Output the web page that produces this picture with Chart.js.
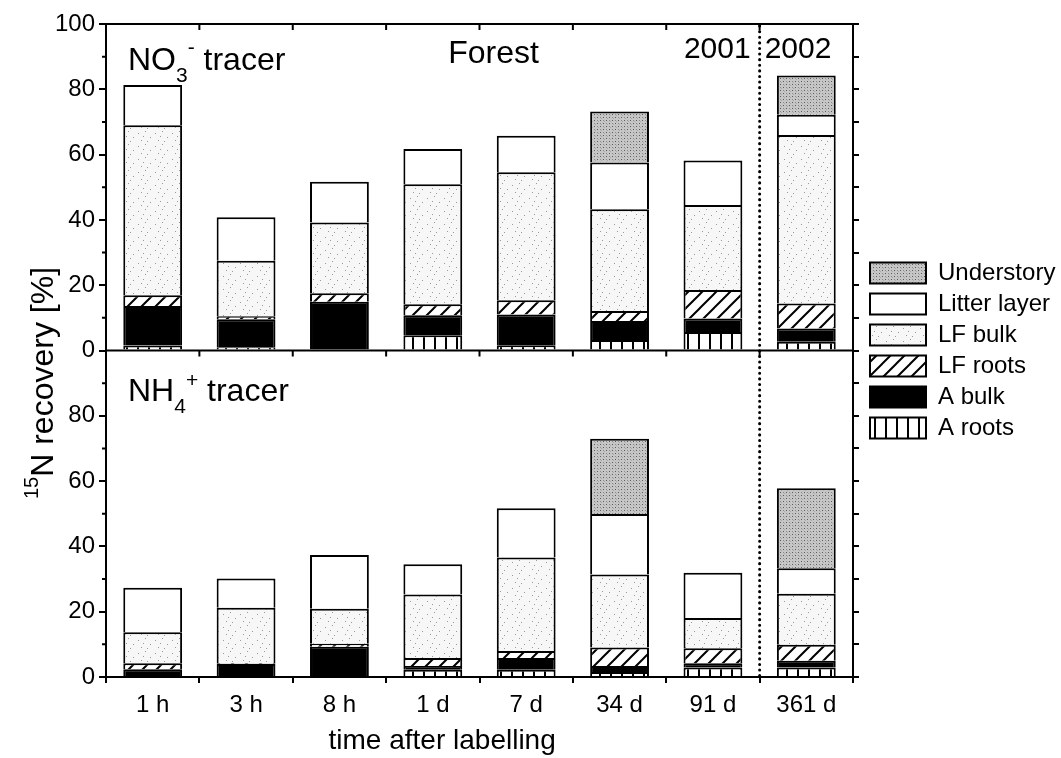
<!DOCTYPE html>
<html>
<head>
<meta charset="utf-8">
<script src="https://cdn.jsdelivr.net/npm/chart.js@4.4.1/dist/chart.umd.min.js"></script>
<style>
  html, body { margin: 0; padding: 0; background: #fff; }
  #wrap { width: 1061px; height: 758px; }
</style>
</head>
<body>
<div id="wrap"><canvas id="recoveryChart" width="1061" height="758"></canvas></div>
<script>
const times = ["1 h", "3 h", "8 h", "1 d", "7 d", "34 d", "91 d", "361 d"];
const layerNames = ["A roots", "A bulk", "LF roots", "LF bulk", "Litter layer", "Understory"];
const yTicks = [0, 20, 40, 60, 80, 100];

// NO3- tracer, % recovery per compartment
const no3ARoots = [1.5, 1.0, 0, 4.7, 1.6, 3.2, 5.7, 2.7];
const no3ABulk = [12.1, 8.6, 14.9, 6.1, 9.4, 5.8, 4.1, 4.0];
const no3LFRoots = [3.3, 0.9, 2.6, 3.4, 4.4, 3.1, 8.7, 7.7];
const no3LFBulk = [52.1, 17.0, 21.7, 36.7, 39.2, 31.2, 26.1, 51.6];
const no3Litter = [12.3, 13.3, 12.5, 10.8, 11.2, 14.3, 13.6, 6.2];
const no3Understory = [0, 0, 0, 0, 0, 15.6, 0, 12.0];

// NH4+ tracer
const nh4ARoots = [0.3, 0, 0, 2.2, 2.2, 1.5, 2.9, 2.9];
const nh4ABulk = [2.1, 4.0, 9.3, 1.2, 3.6, 1.9, 1.3, 2.1];
const nh4LFRoots = [1.8, 0.2, 0.9, 2.4, 2.2, 5.6, 4.6, 4.9];
const nh4LFBulk = [9.5, 17.0, 10.7, 19.5, 28.6, 22.4, 9.3, 15.6];
const nh4Litter = [13.6, 9.0, 16.5, 9.2, 15.1, 18.5, 13.8, 7.8];
const nh4Understory = [0, 0, 0, 0, 0, 23.1, 0, 24.5];

const FONT = '"Liberation Sans", Arial, sans-serif';
Chart.defaults.font.family = FONT;
Chart.defaults.color = "#000";

function makePattern(w, h, draw) {
  const c = document.createElement("canvas");
  c.width = w;
  c.height = h;
  const g = c.getContext("2d");
  draw(g, w, h);
  return g.createPattern(c, "repeat");
}

// grey screen for understory
const understoryFill = makePattern(6, 6, (g) => {
  g.fillStyle = "#c6c6c6";
  g.fillRect(0, 0, 6, 6);
  g.fillStyle = "#5a5a5a";
  g.fillRect(0, 0, 1, 1);
  g.fillRect(3, 3, 1, 1);
  g.fillStyle = "#8c8c8c";
  g.fillRect(3, 0, 1, 1);
  g.fillRect(0, 3, 1, 1);
  g.fillStyle = "#a8a8a8";
  g.fillRect(1, 4, 1, 1);
  g.fillRect(4, 1, 1, 1);
});
// light speckle for LF bulk
const lfBulkFill = makePattern(17, 13, (g) => {
  g.fillStyle = "#f7f7f7";
  g.fillRect(0, 0, 17, 13);
  g.fillStyle = "#9a9a9a";
  [[2, 3], [9, 1], [14, 7], [5, 10], [11, 11], [7, 6]].forEach(([px, py]) => g.fillRect(px, py, 1, 1));
});
// diagonal hatch for LF roots
const lfRootsFill = makePattern(14, 14, (g) => {
  g.fillStyle = "#fff";
  g.fillRect(0, 0, 14, 14);
  g.strokeStyle = "#000";
  g.lineWidth = 2;
  g.beginPath();
  g.moveTo(0, 14); g.lineTo(14, 0);
  g.moveTo(-2, 2); g.lineTo(2, -2);
  g.moveTo(12, 16); g.lineTo(16, 12);
  g.stroke();
});
// vertical lines for A roots
const aRootsFill = makePattern(11, 4, (g) => {
  g.fillStyle = "#fff";
  g.fillRect(0, 0, 11, 4);
  g.fillStyle = "#000";
  g.fillRect(5, 0, 2, 4);
});

const fills = [aRootsFill, "#000", lfRootsFill, lfBulkFill, "#fff", understoryFill];
const no3Layers = [no3ARoots, no3ABulk, no3LFRoots, no3LFBulk, no3Litter, no3Understory];
const nh4Layers = [nh4ARoots, nh4ABulk, nh4LFRoots, nh4LFBulk, nh4Litter, nh4Understory];

function layerSets(layers, axis, stack) {
  return layers.map((values, i) => ({
    label: layerNames[i],
    data: values,
    yAxisID: axis,
    stack: stack,
    backgroundColor: fills[i],
    borderColor: "#000",
    borderWidth: 2,
    barPercentage: 0.63,
    categoryPercentage: 1,
    grouped: false
  }));
}

function drawRuns(ctx, x, y, runs) {
  runs.forEach((r) => {
    ctx.font = r.size + "px " + FONT;
    ctx.fillText(r.text, x, y + (r.dy || 0));
    x += ctx.measureText(r.text).width;
  });
}

// frame lines, inner ticks, year divider, panel labels and axis titles
const panelDecor = {
  id: "panelDecor",
  afterDraw(chart) {
    const { ctx, chartArea: a, scales } = chart;
    const x = scales.x;
    const split = scales.yTop.getPixelForValue(0);
    const bounds = [];
    for (let i = 1; i < times.length; i++) {
      bounds.push((x.getPixelForValue(i - 1) + x.getPixelForValue(i)) / 2);
    }
    ctx.save();
    ctx.strokeStyle = "#000";
    ctx.lineWidth = 2;
    ctx.beginPath();
    ctx.moveTo(a.left - 1, a.top);
    ctx.lineTo(a.right + 1, a.top);
    ctx.moveTo(a.left, split);
    ctx.lineTo(a.right, split);
    bounds.forEach((bx) => {
      ctx.moveTo(bx, a.top);
      ctx.lineTo(bx, a.top + 6);
      ctx.moveTo(bx, split);
      ctx.lineTo(bx, split + 6);
    });
    [scales.yTop, scales.yBot].forEach((s) => {
      for (let v = 10; v < 100; v += 20) {
        const py = s.getPixelForValue(v);
        ctx.moveTo(a.left - 4, py);
        ctx.lineTo(a.left, py);
      }
    });
    ctx.stroke();

    // 2001 | 2002 divider
    const yearX = bounds[6];
    ctx.setLineDash([0.1, 5.5]);
    ctx.lineCap = "round";
    ctx.lineWidth = 3;
    ctx.beginPath();
    ctx.moveTo(yearX, a.top + 2);
    ctx.lineTo(yearX, a.bottom);
    ctx.stroke();
    ctx.setLineDash([]);

    ctx.fillStyle = "#000";
    ctx.textBaseline = "alphabetic";
    ctx.textAlign = "left";
    drawRuns(ctx, a.left + 22, a.top + 46, [
      { text: "NO", size: 32 },
      { text: "3", size: 21, dy: 12 },
      { text: "-", size: 21, dy: -16 },
      { text: " tracer", size: 32 }
    ]);
    drawRuns(ctx, a.left + 22, split + 50, [
      { text: "NH", size: 32 },
      { text: "4", size: 21, dy: 12 },
      { text: "+", size: 21, dy: -14 },
      { text: " tracer", size: 32 }
    ]);
    ctx.textAlign = "center";
    ctx.font = "32px " + FONT;
    ctx.fillText("Forest", x.getPixelForValue(3.65), a.top + 39);
    ctx.font = "30px " + FONT;
    ctx.textAlign = "right";
    ctx.fillText("2001", yearX - 9, a.top + 34);
    ctx.textAlign = "left";
    ctx.fillText("2002", yearX + 5, a.top + 34);

    // x title, a little left of the plot centre
    ctx.textAlign = "center";
    ctx.font = "28px " + FONT;
    ctx.fillText("time after labelling", x.getPixelForValue(3.1), a.bottom + 72);

    // y title with superscript 15
    ctx.save();
    ctx.translate(33, 383);
    ctx.rotate(-Math.PI / 2);
    ctx.font = "20px " + FONT;
    const w1 = ctx.measureText("15").width;
    ctx.font = "32px " + FONT;
    const w2 = ctx.measureText("N recovery [%]").width;
    ctx.textAlign = "left";
    ctx.textBaseline = "middle";
    drawRuns(ctx, -(w1 + w2) / 2, 11, [
      { text: "15", size: 20, dy: -12 },
      { text: "N recovery [%]", size: 32 }
    ]);
    ctx.restore();
    ctx.restore();
  }
};

const leftAxis = (hideTop) => ({
  position: "left",
  stack: "panels",
  stackWeight: 1,
  stacked: true,
  min: 0,
  max: 100,
  afterBuildTicks: (s) => { s.ticks = yTicks.map((v) => ({ value: v })); },
  ticks: {
    font: { size: 24 },
    color: "#000",
    padding: 4,
    callback: (v) => (hideTop && v === 100 ? "" : v)
  },
  grid: { drawOnChartArea: false, tickLength: 7, color: "#000", lineWidth: 2 },
  border: { color: "#000", width: 2 },
  afterFit: (s) => { s.width = 60; }
});

const rightAxis = () => ({
  position: "right",
  stack: "panelsR",
  stackWeight: 1,
  min: 0,
  max: 100,
  ticks: { display: false, stepSize: 10 },
  grid: { drawOnChartArea: false, tickLength: 6, color: "#000", lineWidth: 2 },
  border: { color: "#000", width: 2 },
  afterFit: (s) => { s.width = 10; }
});

new Chart(document.getElementById("recoveryChart"), {
  type: "bar",
  data: {
    labels: times,
    datasets: [
      ...layerSets(no3Layers, "yTop", "no3"),
      ...layerSets(nh4Layers, "yBot", "nh4")
    ]
  },
  options: {
    responsive: false,
    animation: false,
    devicePixelRatio: 1,
    layout: { padding: { top: 24, left: 46, right: 0, bottom: 0 } },
    scales: {
      x: {
        stacked: true,
        offset: true,
        grid: { offset: true, drawOnChartArea: false, tickLength: 6, color: "#000", lineWidth: 2 },
        border: { color: "#000", width: 2 },
        ticks: { font: { size: 24 }, color: "#000", padding: 8, maxRotation: 0 },
        afterFit: (s) => { s.height = 81; }
      },
      yBot: leftAxis(true),
      yTop: leftAxis(false),
      yTopR: rightAxis(),
      yBotR: rightAxis()
    },
    plugins: {
      legend: {
        position: "right",
        fullSize: false,
        reverse: true,
        maxWidth: 198,
        labels: {
          filter: (item) => item.datasetIndex < 6,
          boxWidth: 56,
          boxHeight: 21,
          padding: 7,
          font: { size: 24 },
          color: "#000"
        }
      },
      tooltip: { enabled: false }
    }
  },
  plugins: [panelDecor]
});
</script>
</body>
</html>
